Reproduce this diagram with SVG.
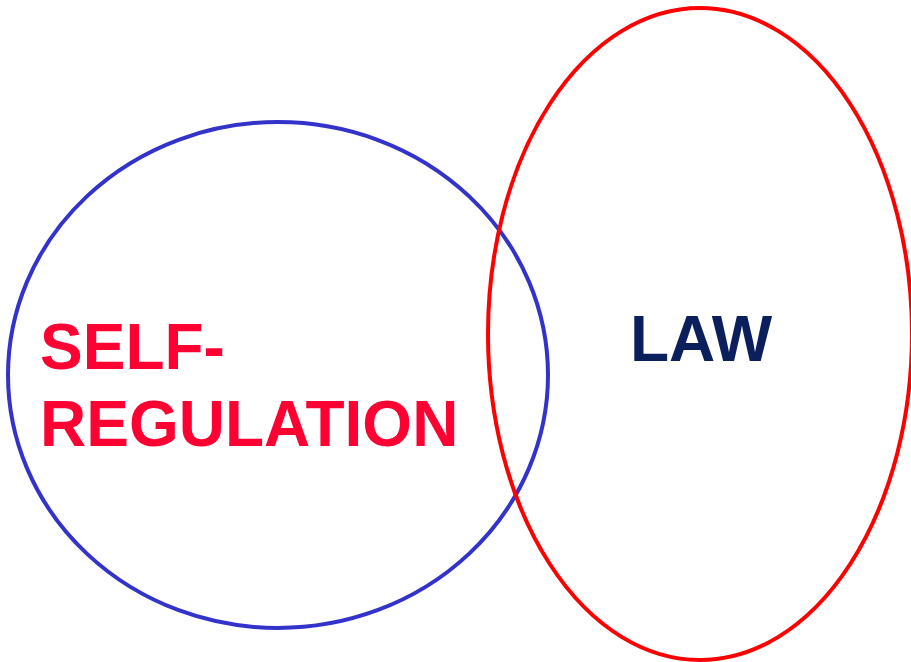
<svg xmlns="http://www.w3.org/2000/svg" width="911" height="662" viewBox="0 0 911 662">
<style>
.lbl{font-family:"Liberation Sans",Arial,sans-serif;font-weight:bold;font-size:64px}
</style>
<rect width="911" height="662" fill="#ffffff"/>
<g id="self-regulation">
<ellipse cx="278" cy="375" rx="270" ry="253" fill="none" stroke="#3333cc" stroke-width="4"/>
<text class="lbl" fill="#ff0033"><tspan x="40" y="369">SELF-</tspan><tspan x="40" y="446">REGULATION</tspan></text>
</g>
<g id="law">
<ellipse cx="700" cy="334" rx="212" ry="326" fill="none" stroke="#ff0000" stroke-width="4"/>
<text class="lbl" x="630" y="361" fill="#0a1f5c">LAW</text>
</g>
<g id="connectors"></g>
</svg>
